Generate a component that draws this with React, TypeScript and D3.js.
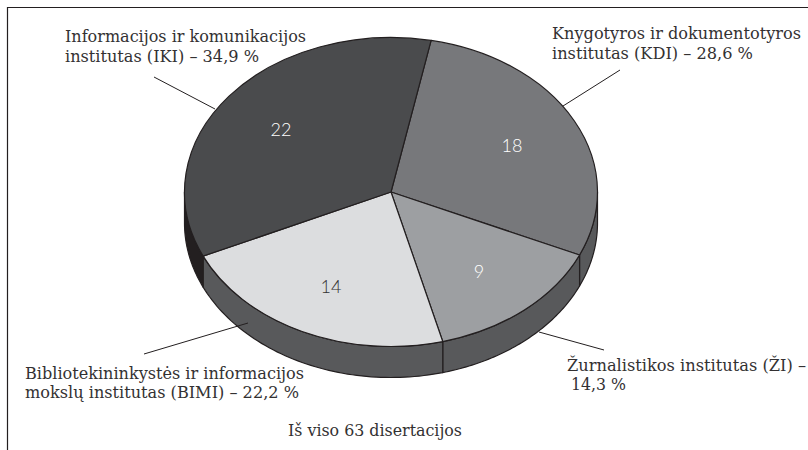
import React from "react";
import * as d3 from "d3";

const institutes = ["KDI", "ZI", "BIMI", "IKI"];
const counts = [18, 9, 14, 22];
const topColors = ["#77787b", "#9d9fa2", "#dcdddf", "#4a4b4d"];
const sideColors = ["#58595b", "#58595b", "#58595b", "#231f20"];

const labelLines = [
  { x: 65, y: 42, t: "Informacijos ir komunikacijos", w: 241 },
  { x: 65, y: 62, t: "institutas (IKI) – 34,9 %", w: 194 },
  { x: 552, y: 39, t: "Knygotyros ir dokumentotyros", w: 249 },
  { x: 552, y: 59, t: "institutas (KDI) – 28,6 %", w: 201 },
  { x: 25, y: 379, t: "Bibliotekininkystės ir informacijos", w: 279 },
  { x: 25, y: 398, t: "mokslų institutas (BIMI) – 22,2 %", w: 274 },
  { x: 567, y: 371, t: "Žurnalistikos institutas (ŽI) –", w: 239 },
  { x: 571, y: 390, t: "14,3 %", w: 55 },
  { x: 288, y: 436, t: "Iš viso 63 disertacijos", w: 174 },
];
const leaders = [
  [154, 77, 215, 109],
  [620, 70, 563, 106],
  [144, 354, 248, 323],
  [539, 332, 604, 350],
];
const countLabels = [
  { x: 512, y: 152 },
  { x: 479, y: 278 },
  { x: 331, y: 293 },
  { x: 281, y: 136 },
];

const cx = 391, cy = 192, rx = 206.5, ry = 154.5, depth = 31;
const start = (11.2 * Math.PI) / 180;

export default function App() {
  const pie = d3.pie<number>().sort(null).startAngle(start).endAngle(start + 2 * Math.PI);
  const arcs = pie(counts);
  const px = (a: number) => cx + rx * Math.sin(a);
  const py = (a: number) => cy - ry * Math.cos(a);
  const line = d3.line<[number, number]>();
  const side = (a0: number, a1: number) => {
    const pts: [number, number][] = [];
    const n = 60;
    for (let i = 0; i <= n; i++) {
      const a = a0 + ((a1 - a0) * i) / n;
      pts.push([px(a), py(a)]);
    }
    for (let i = n; i >= 0; i--) {
      const a = a0 + ((a1 - a0) * i) / n;
      pts.push([px(a), py(a) + depth]);
    }
    return line(pts) + "Z";
  };
  const arcGen = d3.arc<d3.PieArcDatum<number>>().innerRadius(0).outerRadius(rx);
  const lo = Math.PI / 2, hi = (3 * Math.PI) / 2;
  return (
    <svg width={808} height={450} style={{ position: "absolute", left: 0, top: 0, background: "#fff" }}>
      <path d="M7.5 450V7.5H808" fill="none" stroke="#231f20" strokeWidth={1.2} />
      {arcs.map((d, i) => {
        const a0 = Math.max(d.startAngle, lo), a1 = Math.min(d.endAngle, hi);
        if (a1 <= a0) return null;
        return <path key={institutes[i]} d={side(a0, a1)} fill={sideColors[i]} stroke="#231f20" strokeWidth={1.2} strokeLinejoin="round" />;
      })}
      {arcs.map((d, i) => (
        <path
          key={i}
          d={arcGen(d) as string}
          transform={`translate(${cx},${cy}) scale(1,${ry / rx})`}
          fill={topColors[i]}
          stroke="#231f20"
          strokeWidth={1.2}
          vectorEffect="non-scaling-stroke"
          strokeLinejoin="round"
        />
      ))}
      {leaders.map((l, i) => (
        <line key={i} x1={l[0]} y1={l[1]} x2={l[2]} y2={l[3]} stroke="#231f20" strokeWidth={1} />
      ))}
      {labelLines.map((l, i) => (
        <text key={i} x={l.x} y={l.y} textLength={l.w} lengthAdjust="spacingAndGlyphs" fontFamily="'DejaVu Serif Condensed','DejaVu Serif'" fontSize={17} fill="#333132">
          {l.t}
        </text>
      ))}
      {countLabels.map((l, i) => (
        <text key={i} x={l.x} y={l.y} textAnchor="middle" fontFamily="'Lato'" fontWeight={300} fontSize={18} fill={i === 2 ? "#333132" : "#ffffff"}>
          {counts[i]}
        </text>
      ))}
    </svg>
  );
}
